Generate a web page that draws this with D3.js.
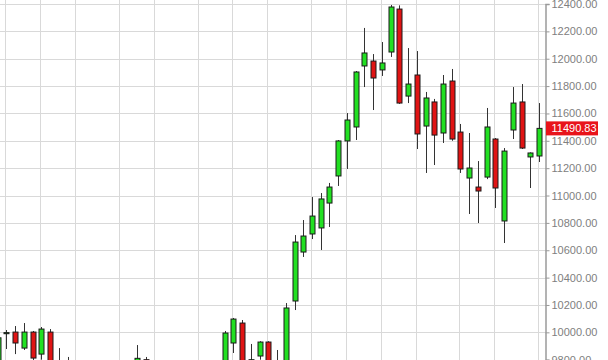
<!DOCTYPE html>
<html>
<head>
<meta charset="utf-8">
<script src="https://cdn.jsdelivr.net/npm/d3@7"></script>
<style>
  body { margin: 0; background: #fff; }
  svg { display: block; }
</style>
</head>
<body>
<svg id="chart"></svg>
<script>
var w = 608, h = 360;

// weekly candles (week starting monday)
var weeks = [
  "2014-05-26", "2014-06-02", "2014-06-09", "2014-06-16", "2014-06-23", "2014-06-30",
  "2014-07-07", "2014-07-14", "2014-07-21", "2014-07-28", "2014-08-04", "2014-08-11",
  "2014-08-18", "2014-08-25", "2014-09-01", "2014-09-08", "2014-09-15", "2014-09-22",
  "2014-09-29", "2014-10-06", "2014-10-13", "2014-10-20", "2014-10-27", "2014-11-03",
  "2014-11-10", "2014-11-17", "2014-11-24", "2014-12-01", "2014-12-08", "2014-12-15",
  "2014-12-22", "2014-12-29", "2015-01-05", "2015-01-12", "2015-01-19", "2015-01-26",
  "2015-02-02", "2015-02-09", "2015-02-16", "2015-02-23", "2015-03-02", "2015-03-09",
  "2015-03-16", "2015-03-23", "2015-03-30", "2015-04-06", "2015-04-13", "2015-04-20",
  "2015-04-27", "2015-05-04", "2015-05-11", "2015-05-18", "2015-05-25", "2015-06-01",
  "2015-06-08", "2015-06-15", "2015-06-22", "2015-06-29", "2015-07-06", "2015-07-13",
  "2015-07-20", "2015-07-27", "2015-08-03"
];
var open = [
  9760, 9990, 10002, 9885, 10002, 9841, 10002, 9666, 9720, 9640, 9200, 9010,
  9230, 9340, 9480, 9740, 9690, 9800, 9490, 9200, 8790, 8850, 8990, 9320,
  9290, 9250, 9730, 9922, 10068, 9590, 9827, 9929, 9760, 9650, 10229, 10587,
  10719, 10763, 10945, 11143, 11399, 11501, 11947, 11983, 11918, 12049, 12363, 11727,
  11881, 11508, 11684, 11457, 11837, 11464, 11128, 11062, 11135, 11413, 10814, 11479,
  11684, 11282, 11289
];
var high = [
  9970, 10017, 10046, 10068, 10010, 10039, 10024, 9885, 9820, 9700, 9290, 9250,
  9420, 9580, 9760, 9780, 9907, 9820, 9510, 9250, 8900, 9040, 9330, 9400,
  9400, 9740, 10010, 10105, 10090, 9915, 9935, 9935, 9871, 10214, 10711, 10821,
  10989, 11018, 11092, 11405, 11603, 11910, 12225, 12034, 12122, 12393, 12390, 12078,
  12056, 11757, 11706, 11881, 11925, 11523, 11457, 11252, 11640, 11420, 11347, 11793,
  11815, 11315, 11676
];
var low = [
  9740, 9878, 9841, 9871, 9790, 9800, 9700, 9600, 9590, 9190, 8900, 8990,
  9200, 9300, 9460, 9640, 9640, 9480, 9160, 8780, 8355, 8770, 8800, 9110,
  9160, 9150, 9700, 9849, 9570, 9220, 9800, 9700, 9380, 9680, 10163, 10551,
  10682, 10602, 10770, 11070, 11194, 11406, 11793, 11625, 11874, 12013, 11670, 11676,
  11340, 11165, 11223, 11384, 11400, 11165, 10865, 10799, 11120, 10909, 10653, 11413,
  11340, 11055, 11245
];
var close = [
  9960, 9998, 9922, 10002, 9812, 10024, 9760, 9720, 9644, 9210, 9009, 9225,
  9339, 9470, 9747, 9691, 9810, 9490, 9195, 8788, 8850, 8987, 9326, 9291,
  9252, 9732, 9995, 10097, 9594, 9800, 9929, 9764, 9648, 10178, 10660, 10704,
  10850, 10975, 11062, 11399, 11552, 11903, 12042, 11859, 11969, 12378, 11676, 11815,
  11450, 11713, 11442, 11815, 11413, 11194, 11201, 11033, 11501, 11055, 11325, 11676,
  11347, 11311, 11490.83
];
var yTicks = [9800, 10000, 10200, 10400, 10600, 10800, 11000, 11200, 11400, 11600, 11800, 12000, 12200, 12400];

var svg = d3.select("#chart").attr("width", w).attr("height", h);

var axisX = 545.5;
var x = d3.scalePoint().domain(weeks).range([-2.3, 539]);
var y = d3.scaleLinear().domain([9800, 12400]).range([359.7, 4]);
var parse = d3.timeParse("%Y-%m-%d");

var candles = weeks.map(function (d, i) {
  return { week: d, o: open[i], h: high[i], l: low[i], c: close[i] };
});

// month gridlines at the first trading week of each month
var monthWeeks = weeks.filter(function (d, i) {
  if (i === 0) return false;
  var fri = d3.timeDay.offset(parse(d), 4);
  var prevFri = d3.timeDay.offset(parse(weeks[i - 1]), 4);
  return fri.getMonth() !== prevFri.getMonth();
});

svg.append("g")
  .selectAll("line")
  .data(yTicks)
  .enter()
  .append("line")
  .attr("x1", 0)
  .attr("x2", axisX)
  .attr("y1", function (d) { return Math.round(y(d)) + 0.5; })
  .attr("y2", function (d) { return Math.round(y(d)) + 0.5; })
  .attr("stroke", "#d9d9d9")
  .attr("stroke-width", 1);

svg.append("g")
  .selectAll("line")
  .data(monthWeeks)
  .enter()
  .append("line")
  .attr("x1", function (d) { return Math.round(x(d) - 1) + 0.5; })
  .attr("x2", function (d) { return Math.round(x(d) - 1) + 0.5; })
  .attr("y1", 0)
  .attr("y2", h)
  .attr("stroke", "#d9d9d9")
  .attr("stroke-width", 1);

// wicks
svg.append("g")
  .selectAll("line")
  .data(candles)
  .enter()
  .append("line")
  .attr("x1", function (d) { return Math.round(x(d.week)) + 0.5; })
  .attr("x2", function (d) { return Math.round(x(d.week)) + 0.5; })
  .attr("y1", function (d) { return y(d.h); })
  .attr("y2", function (d) { return y(d.l); })
  .attr("stroke", "#333")
  .attr("stroke-width", 1);

// bodies
svg.append("g")
  .selectAll("rect")
  .data(candles)
  .enter()
  .append("rect")
  .attr("x", function (d) { return Math.round(x(d.week)) - 2; })
  .attr("width", 5)
  .attr("y", function (d) { return y(Math.max(d.o, d.c)); })
  .attr("height", function (d) { return Math.max(1, Math.abs(y(d.o) - y(d.c))); })
  .attr("fill", function (d) { return d.c >= d.o ? "#22e022" : "#e01414"; })
  .attr("stroke", "#1a1a1a")
  .attr("stroke-width", 1);

// price axis on the right
var axis = svg.append("g")
  .attr("transform", "translate(" + axisX + ",0)")
  .call(d3.axisRight(y).tickValues(yTicks).tickFormat(d3.format(".2f")).tickSize(4).tickPadding(2));

axis.select(".domain").attr("stroke", "#9a9a9a").attr("stroke-width", 1.5);
axis.selectAll(".tick line").attr("stroke", "#9a9a9a");
axis.selectAll(".tick text")
  .attr("fill", "#808080")
  .attr("font-family", "'Liberation Sans', Arial, sans-serif")
  .attr("font-size", "11px");

// last price marker
var last = close[close.length - 1];
svg.append("rect")
  .attr("x", axisX + 0.5)
  .attr("y", y(last) - 7)
  .attr("width", 52)
  .attr("height", 14)
  .attr("fill", "#e8141b");

svg.append("text")
  .text(d3.format(".2f")(last))
  .attr("x", axisX + 6)
  .attr("y", y(last))
  .attr("dy", "0.35em")
  .attr("fill", "#fff")
  .attr("font-family", "'Liberation Sans', Arial, sans-serif")
  .attr("font-size", "11px");
</script>
</body>
</html>
